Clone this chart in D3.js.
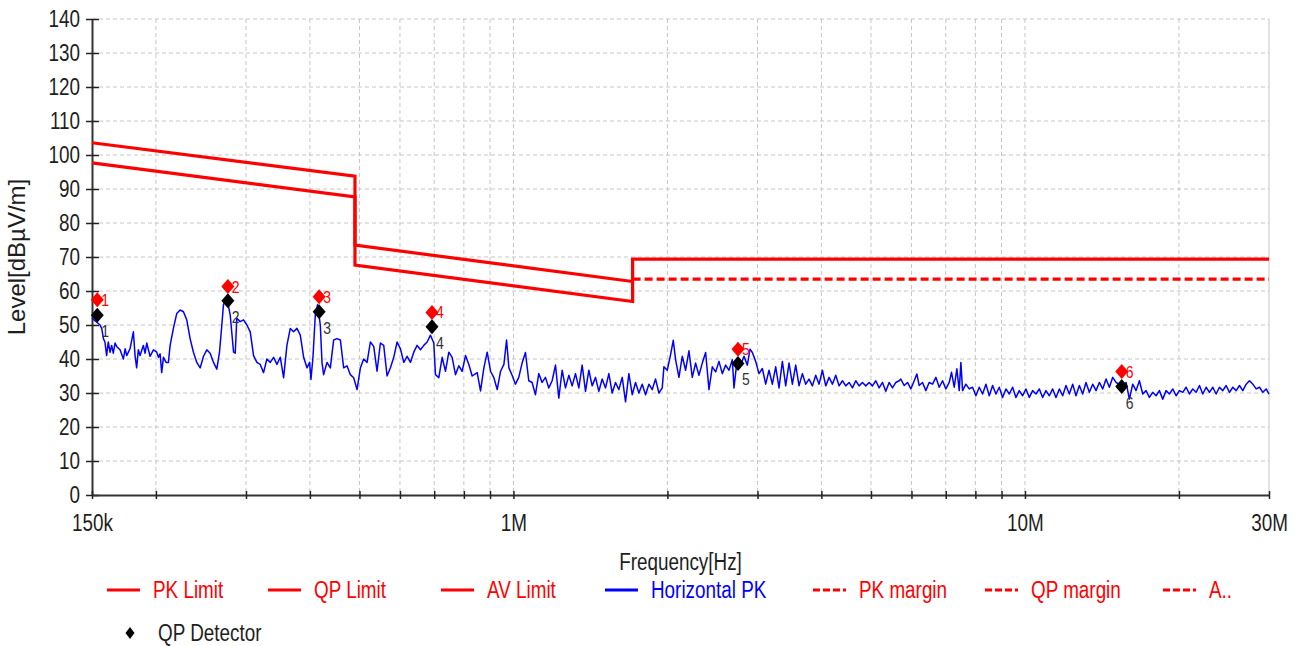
<!DOCTYPE html>
<html>
<head>
<meta charset="utf-8">
<script src="https://cdn.jsdelivr.net/npm/d3@7/dist/d3.min.js"></script>
<style>
    body { margin: 0; background: #fff; }
    svg text { font-family: 'Liberation Sans', Arial, sans-serif; }
</style>
</head>
<body>
<div id="chart"></div>
<script>
// ---- data (frequency in MHz, level in dBuV/m) ----
var yTicks = [0, 10, 20, 30, 40, 50, 60, 70, 80, 90, 100, 110, 120, 130, 140];
var xLabelTicks = [0.15, 1, 10, 30];
var xLabelText = ['150k', '1M', '10M', '30M'];
var xGridTicks = [0.2, 0.3, 0.4, 0.5, 0.6, 0.7, 0.8, 0.9, 1, 2, 3, 4, 5, 6, 7, 8, 9, 10, 20];

var limitUpper = [[0.15, 103.6], [0.49, 93.8], [0.49, 73.5], [1.71, 62.8]];
var limitLower = [[0.15, 97.7], [0.49, 87.7], [0.49, 67.6], [1.71, 56.9], [1.71, 69.4], [30, 69.4]];
var marginLine = [[1.71, 63.5], [30, 63.5]];

var markerFreq = [0.1536, 0.2765, 0.417, 0.693, 2.748, 15.46];
var pkLevel = [57.4, 61.3, 58.3, 53.7, 42.9, 36.3];
var qpLevel = [52.9, 57.1, 53.9, 49.5, 38.7, 31.9];

var legendNames = ['PK Limit', 'QP Limit', 'AV Limit', 'Horizontal PK', 'PK margin', 'QP margin', 'A..'];

var horizontalPK = [
    [0.150, 52], [0.1555, 50], [0.1567, 49], [0.1579, 46], [0.1590, 45], [0.1602, 41], [0.1614, 45], [0.1627, 42],
    [0.1639, 44], [0.1651, 41.7], [0.1664, 44.7], [0.1676, 43.7], [0.1702, 42.7], [0.1728, 40], [0.1741, 43],
    [0.1754, 41], [0.1780, 43], [0.1807, 48], [0.1821, 41], [0.1834, 37.4], [0.1848, 42.7], [0.1862, 41],
    [0.1890, 44], [0.1905, 41.7], [0.1919, 44.7], [0.1948, 40.8], [0.1978, 42.7], [0.2007, 42], [0.2023, 40.5],
    [0.2038, 41.5], [0.2053, 36], [0.2069, 40.5], [0.2094, 39], [0.2116, 39], [0.2132, 44], [0.2164, 49],
    [0.2197, 53.4], [0.2230, 54.4], [0.2264, 53.9], [0.2298, 51.5], [0.2333, 46], [0.2368, 42], [0.2404, 39],
    [0.2441, 37.4], [0.2478, 40.8], [0.2515, 42.7], [0.2553, 41.7], [0.2592, 39], [0.2631, 37], [0.2663, 42],
    [0.2691, 50], [0.2711, 56], [0.2753, 58], [0.2794, 53], [0.2837, 42], [0.2858, 41.7], [0.2879, 52],
    [0.2923, 51], [0.2967, 51.5], [0.3012, 50], [0.3058, 48], [0.3104, 41], [0.3151, 39], [0.3199, 38.4],
    [0.3247, 36], [0.3296, 40], [0.3346, 39], [0.3397, 40.5], [0.3448, 38.4], [0.3501, 40.5], [0.3554, 34.5],
    [0.3607, 44], [0.3662, 49], [0.3717, 48], [0.3774, 49], [0.3831, 47], [0.3889, 40.5], [0.3948, 37.4],
    [0.3995, 39], [0.4019, 34], [0.4056, 40.5], [0.4099, 53], [0.4142, 56], [0.4192, 50], [0.4224, 39],
    [0.4255, 35.4], [0.4320, 39], [0.4385, 37.4], [0.4452, 45.6], [0.4519, 46], [0.4588, 45.6], [0.4657, 37.4],
    [0.4728, 38], [0.4799, 35.4], [0.4872, 34.5], [0.4946, 31], [0.5021, 37.4], [0.5097, 40], [0.5174, 39],
    [0.5252, 45], [0.5332, 43.7], [0.5412, 36.4], [0.5494, 44.7], [0.5577, 44], [0.5662, 35], [0.5748, 37.4],
    [0.5835, 40.5], [0.5923, 45], [0.6013, 43], [0.6104, 39], [0.6196, 40.8], [0.6290, 39], [0.6385, 42],
    [0.6482, 44], [0.6580, 42.7], [0.6680, 44], [0.6781, 45], [0.6883, 47], [0.6987, 44.7], [0.7040, 35.4],
    [0.7147, 34.5], [0.7255, 40.5], [0.7365, 36.4], [0.7476, 42], [0.7589, 40.5], [0.7704, 35.4], [0.7821, 38],
    [0.7939, 36.4], [0.8060, 41], [0.8181, 38.4], [0.8305, 35], [0.8494, 36], [0.8623, 30.6], [0.8754, 37.4],
    [0.8886, 42], [0.9021, 36.4], [0.9157, 34.5], [0.9296, 31], [0.9437, 36.4], [0.9580, 38.4], [0.9695, 45.6],
    [0.9798, 37.4], [0.9940, 35.2], [1.0091, 32.6], [1.0243, 34.6], [1.0398, 38.8], [1.0556, 41.9], [1.0715, 33.6],
    [1.0877, 33.1], [1.1042, 29.5], [1.1209, 35.7], [1.1379, 33.1], [1.1551, 34.6], [1.1726, 31.5], [1.1903, 33.6],
    [1.2084, 38.2], [1.2266, 28.5], [1.2452, 36.7], [1.2640, 31.5], [1.2832, 35.2], [1.3026, 32.1], [1.3223, 35.7],
    [1.3423, 31.5], [1.3626, 38.2], [1.3833, 30.5], [1.4042, 36.7], [1.4254, 32.1], [1.4470, 34.6], [1.4689, 30.5],
    [1.4911, 34.1], [1.5137, 31.5], [1.5366, 35.7], [1.5598, 30], [1.5834, 33.1], [1.6074, 31], [1.6317, 34.6],
    [1.6564, 27.4], [1.6815, 35.7], [1.7069, 29.5], [1.7327, 33.1], [1.7590, 30], [1.7856, 32.6], [1.8126, 29.5],
    [1.8400, 32.6], [1.8679, 31], [1.8961, 34.1], [1.9248, 30], [1.9540, 31.5], [1.9687, 37.7], [1.9985, 36.7],
    [2.0287, 41.3], [2.0533, 45.5], [2.0750, 39.8], [2.1064, 34.6], [2.1383, 40.8], [2.1707, 36.7], [2.2035, 42.4],
    [2.2369, 34.6], [2.2707, 38.8], [2.3051, 35.2], [2.3400, 38.8], [2.3754, 41.9], [2.4113, 31], [2.4478, 37.7],
    [2.4849, 36.2], [2.5225, 39.3], [2.5606, 35.7], [2.5994, 38.2], [2.6387, 36.7], [2.6787, 39.8], [2.6989, 31.5],
    [2.7397, 40.3], [2.7812, 38.2], [2.8233, 40.8], [2.8660, 38.2], [2.9006, 42.9], [2.9313, 41.9], [2.9756, 39.3],
    [3.0207, 35.7], [3.0664, 37.2], [3.1128, 32.6], [3.1599, 36.7], [3.2077, 32.6], [3.2562, 37.7], [3.3055, 31.5],
    [3.3556, 39.3], [3.4064, 32.1], [3.4579, 38.8], [3.5102, 32.6], [3.5634, 38.2], [3.6173, 32.1], [3.6720, 35.7],
    [3.7276, 32.6], [3.7840, 34.1], [3.8413, 32.1], [3.8994, 35.2], [3.9584, 32.6], [4.0183, 36.7], [4.0791, 32.1],
    [4.1409, 34.6], [4.2035, 32.6], [4.2671, 35.2], [4.3317, 32.1], [4.3973, 33.6], [4.4638, 32.1], [4.5314, 33.1],
    [4.6000, 31.5], [4.6696, 33.6], [4.7403, 32.1], [4.8120, 33.1], [4.8848, 32.1], [4.9587, 33.1], [5.0338, 32.1],
    [5.1100, 33.6], [5.1873, 31.5], [5.2658, 33.1], [5.3455, 30.5], [5.4264, 33.1], [5.5085, 31.5], [5.5919, 33.1],
    [5.6765, 33.6], [5.719, 34.1], [5.806, 32.2], [5.894, 33.1], [5.983, 31.2], [6.074, 33.6], [6.147, 35.6],
    [6.212, 32.2], [6.306, 33.1], [6.401, 30.7], [6.498, 33.1], [6.597, 32.6], [6.697, 34.6], [6.798, 31.7],
    [6.901, 33.6], [7.005, 31.2], [7.111, 33.1], [7.186, 36.1], [7.273, 31.7], [7.361, 37.1], [7.439, 30.7],
    [7.495, 39], [7.552, 30.7], [7.666, 32.6], [7.782, 31.2], [7.900, 31.7], [8.019, 29.2], [8.141, 31.7],
    [8.264, 29.7], [8.389, 32.6], [8.516, 29.2], [8.645, 32.2], [8.775, 29.7], [8.908, 31.7], [9.043, 28.7],
    [9.180, 31.2], [9.319, 29.7], [9.460, 31.7], [9.603, 28.7], [9.748, 30.7], [9.896, 29.2], [10.046, 31.2],
    [10.198, 28.7], [10.352, 30.7], [10.509, 29.7], [10.668, 31.2], [10.829, 28.7], [10.993, 30.7], [11.160, 29.2],
    [11.328, 31.2], [11.500, 28.7], [11.674, 31.2], [11.851, 29.2], [12.030, 32.2], [12.212, 29.7], [12.397, 32.6],
    [12.584, 29.2], [12.775, 32.2], [12.968, 29.7], [13.164, 33.1], [13.363, 30.2], [13.566, 32.6], [13.771, 30.7],
    [13.979, 33.1], [14.191, 31.2], [14.406, 34.1], [14.624, 31.7], [14.845, 34.6], [15.069, 33.1], [15.297, 32.6],
    [15.529, 31.2], [15.764, 33.1], [16.002, 28.2], [16.244, 32.6], [16.490, 30.7], [16.740, 33.6], [16.993, 29.7],
    [17.250, 30.7], [17.511, 28.7], [17.776, 30.2], [18.045, 29.2], [18.318, 30.7], [18.595, 28.2], [18.877, 30.7],
    [19.162, 29.7], [19.452, 31.2], [19.747, 29.2], [20.045, 30.7], [20.349, 30.2], [20.657, 31.7], [20.969, 29.7],
    [21.286, 31.2], [21.609, 30.2], [21.936, 32.2], [22.268, 29.7], [22.605, 31.7], [22.947, 30.2], [23.294, 31.7],
    [23.646, 29.7], [24.004, 31.7], [24.368, 30.7], [24.736, 32.2], [25.111, 30.2], [25.491, 31.7], [25.876, 30.7],
    [26.268, 32.2], [26.665, 30.7], [27.069, 32.6], [27.478, 33.6], [27.894, 32.6], [28.316, 31.2], [28.744, 31.7],
    [29.179, 30.2], [29.621, 31.2], [30.0, 29.7]
];

// ---- layout ----
var svgWidth = 1301;
var svgHeight = 646;
var margin = { top: 19, right: 32, bottom: 151, left: 92 };
var width = svgWidth - margin.left - margin.right;
var height = svgHeight - margin.top - margin.bottom;

var red = '#ff0000';
var blue = '#0000ff';
var gridColor = '#c6c6c6';
var textColor = '#1e1e1e';

var svg = d3.select('#chart')
    .append('svg')
    .attr('width', svgWidth)
    .attr('height', svgHeight);

var chartGroup = svg.append('g')
    .attr('transform', `translate(${margin.left}, ${margin.top})`);

// scales
var xScale = d3.scaleLog()
    .domain([0.15, 30])
    .range([0, width]);

var yScale = d3.scaleLinear()
    .domain([0, 140])
    .range([height, 0]);

// grid lines
chartGroup.append('g')
    .selectAll('line')
    .data(yTicks.slice(1))
    .enter()
    .append('line')
    .attr('x1', 0)
    .attr('x2', width)
    .attr('y1', d => yScale(d))
    .attr('y2', d => yScale(d))
    .attr('stroke', gridColor)
    .attr('stroke-dasharray', '4,3');

chartGroup.append('g')
    .selectAll('line')
    .data(xGridTicks)
    .enter()
    .append('line')
    .attr('x1', d => xScale(d))
    .attr('x2', d => xScale(d))
    .attr('y1', 0)
    .attr('y2', height)
    .attr('stroke', gridColor)
    .attr('stroke-dasharray', '4,3');

// right border
chartGroup.append('line')
    .attr('x1', xScale(30))
    .attr('x2', xScale(30))
    .attr('y1', 0)
    .attr('y2', height)
    .attr('stroke', gridColor);

// axes
var leftAxis = d3.axisLeft(yScale)
    .tickValues(yTicks)
    .tickSizeOuter(0)
    .tickPadding(12);

var yAxis = chartGroup.append('g').call(leftAxis);
yAxis.select('.domain').attr('stroke', '#333').attr('stroke-width', 2);
yAxis.selectAll('.tick line').attr('x1', 7).attr('x2', -6).attr('stroke', '#222').attr('stroke-width', 1.5);
yAxis.selectAll('.tick text')
    .attr('x', -12)
    .attr('fill', textColor)
    .classed('narrow', true)
    .style('font-size', '23px');

var bottomAxis = d3.axisBottom(xScale)
    .tickValues(xGridTicks.concat([0.15, 30]))
    .tickSizeOuter(0)
    .tickFormat(function(d) {
        var i = xLabelTicks.indexOf(d);
        return i >= 0 ? xLabelText[i] : '';
    });

var xAxis = chartGroup.append('g')
    .attr('transform', `translate(0, ${height})`)
    .call(bottomAxis);
xAxis.select('.domain').attr('stroke', '#333').attr('stroke-width', 2);
xAxis.selectAll('.tick line').attr('y1', -4).attr('y2', 4).attr('stroke', '#222').attr('stroke-width', 1.5);
xAxis.selectAll('.tick text')
    .attr('y', 20)
    .attr('fill', textColor)
    .classed('narrow', true)
    .style('font-size', '23px');

// axis titles
chartGroup.append('text')
    .attr('x', width / 2)
    .attr('y', height + 75)
    .attr('text-anchor', 'middle')
    .attr('fill', textColor)
    .classed('narrow', true)
    .style('font-size', '23px')
    .text('Frequency[Hz]');

svg.append('text')
    .attr('transform', `translate(25, ${margin.top + height / 2}) rotate(-90)`)
    .attr('text-anchor', 'middle')
    .attr('fill', textColor)
    .style('font-size', '24px')
    .text('Level[dBµV/m]');

// limit lines
var line = d3.line()
    .x(d => xScale(d[0]))
    .y(d => yScale(d[1]));

chartGroup.append('path')
    .datum(limitUpper)
    .attr('d', line)
    .attr('fill', 'none')
    .attr('stroke', red)
    .attr('stroke-width', 3.2);

chartGroup.append('path')
    .datum(limitLower)
    .attr('d', line)
    .attr('fill', 'none')
    .attr('stroke', red)
    .attr('stroke-width', 3.2);

chartGroup.append('path')
    .datum(marginLine)
    .attr('d', line)
    .attr('fill', 'none')
    .attr('stroke', red)
    .attr('stroke-width', 3.2)
    .attr('stroke-dasharray', '8,4');

// measurement trace
chartGroup.append('path')
    .datum(horizontalPK)
    .attr('d', line)
    .attr('fill', 'none')
    .attr('stroke', blue)
    .attr('stroke-width', 1.5)
    .attr('stroke-linejoin', 'round');

// markers
var diamond = 'M0,-7.5L6.5,0L0,7.5L-6.5,0Z';

var markerGroup = chartGroup.selectAll('.marker')
    .data(markerFreq)
    .enter()
    .append('g')
    .classed('marker', true);

markerGroup.append('path')
    .attr('d', diamond)
    .attr('transform', (d, i) => `translate(${xScale(d)}, ${yScale(pkLevel[i])})`)
    .attr('fill', red);

markerGroup.append('text')
    .attr('x', d => xScale(d) + 4)
    .attr('y', (d, i) => yScale(pkLevel[i]) + 6)
    .attr('fill', red)
    .classed('narrow', true)
    .style('font-size', '17px')
    .text((d, i) => i + 1);

markerGroup.append('path')
    .attr('d', diamond)
    .attr('transform', (d, i) => `translate(${xScale(d)}, ${yScale(qpLevel[i])})`)
    .attr('fill', '#000');

markerGroup.append('text')
    .attr('x', d => xScale(d) + 4)
    .attr('y', (d, i) => yScale(qpLevel[i]) + 22)
    .attr('fill', '#333')
    .classed('narrow', true)
    .style('font-size', '17px')
    .text((d, i) => i + 1);

// legend
var legendX = [107, 268, 441, 605, 813, 985, 1163];
var legendColor = [red, red, red, blue, red, red, red];
var legendDash = [null, null, null, null, '7,3', '7,3', '7,3'];

var legend = svg.append('g');
legendNames.forEach(function(name, i) {
    legend.append('line')
        .attr('x1', legendX[i])
        .attr('x2', legendX[i] + 33)
        .attr('y1', 590)
        .attr('y2', 590)
        .attr('stroke', legendColor[i])
        .attr('stroke-width', 3)
        .attr('stroke-dasharray', legendDash[i]);
    legend.append('text')
        .attr('x', legendX[i] + 46)
        .attr('y', 598)
        .attr('fill', legendColor[i])
        .classed('narrow', true)
        .style('font-size', '23px')
        .text(name);
});

legend.append('path')
    .attr('d', 'M0,-6L4.5,0L0,6L-4.5,0Z')
    .attr('transform', 'translate(130, 633)')
    .attr('fill', '#000');
legend.append('text')
    .attr('x', 158)
    .attr('y', 641)
    .attr('fill', textColor)
    .classed('narrow', true)
    .style('font-size', '23px')
    .text('QP Detector');

// condense texts to look like a narrow font
svg.selectAll('text.narrow').each(function() {
    var len = this.getComputedTextLength();
    d3.select(this)
        .attr('textLength', len * 0.82)
        .attr('lengthAdjust', 'spacingAndGlyphs');
});
</script>
</body>
</html>
